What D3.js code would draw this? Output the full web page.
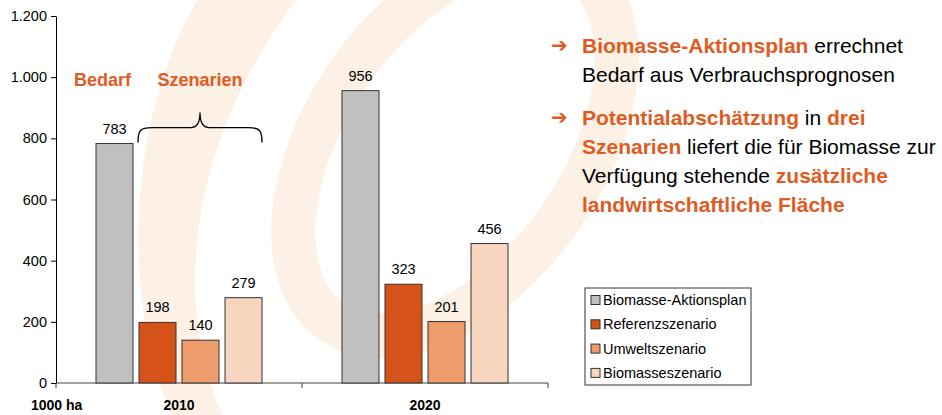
<!DOCTYPE html>
<html>
<head>
<meta charset="utf-8">
<script src="https://cdn.jsdelivr.net/npm/d3@7"></script>
<style>
  body { margin: 0; background: #fff; }
  svg { display: block; font-family: "Liberation Sans", Arial, sans-serif; }
</style>
</head>
<body>
<svg id="chart" width="942" height="415"></svg>
<script>
// data
const years = ["2010", "2020"]
const series = ["Biomasse-Aktionsplan", "Referenzszenario", "Umweltszenario", "Biomasseszenario"]
const values2010 = [783, 198, 140, 279]
const values2020 = [956, 323, 201, 456]
const yTicks = [0, 200, 400, 600, 800, 1000, 1200]
const colors = ["#c0c0c0", "#d55319", "#ee9c6c", "#f8d5bf"]
const notes = [
  [["Biomasse-Aktionsplan", true], [" errechnet", false]],
  [["Bedarf aus Verbrauchsprognosen", false]],
  [["Potentialabschätzung", true], [" in ", false], ["drei", true]],
  [["Szenarien", true], [" liefert die für Biomasse zur", false]],
  [["Verfügung stehende ", false], ["zusätzliche", true]],
  [["landwirtschaftliche Fläche", true]]
]
const arrowLines = [0, 2]

const orange = "#df5b24"
const svg = d3.select("#chart")

// background swirl (watermark)
const wm = svg.append("g")
wm.append("ellipse")
  .attr("cx", 455).attr("cy", 145).attr("rx", 215).attr("ry", 128)
  .attr("transform", "rotate(-55,455,145)")
  .attr("fill", "none").attr("stroke", "#fdf0e4")
  .attr("stroke-width", 44)
wm.append("path")
  .attr("d", "M200,-5 C120,130 125,320 175,420 L225,420 C175,320 180,150 300,-5 Z")
  .attr("fill", "#fdf0e4")

const margin = { left: 56, top: 16 }
const plotW = 492, plotH = 367

const de = d3.formatLocale({ decimal: ",", thousands: ".", grouping: [3], currency: ["", "€"] })
const fmt = de.format(",")

const x = d3.scaleBand().domain(years).range([0, plotW])
const xs = d3.scaleBand().domain(series).range([0, x.bandwidth()])
  .paddingInner(0.14).paddingOuter(0.93)
const y = d3.scaleLinear().domain([0, 1200]).range([plotH, 0])

const g = svg.append("g").attr("transform", `translate(${margin.left},${margin.top})`)

// y axis
const ya = g.append("g")
  .call(d3.axisLeft(y).tickValues(yTicks).tickFormat(fmt).tickSize(5).tickSizeOuter(0))
ya.select(".domain").attr("stroke", "#000")
ya.selectAll(".tick line").attr("stroke", "#000")
ya.selectAll(".tick text").attr("font-size", "14.5px").attr("fill", "#000")
  .attr("font-family", "Liberation Sans, Arial, sans-serif").attr("x", -9)

// x axis line + ticks at band edges
g.append("line").attr("x1", 0).attr("x2", plotW).attr("y1", plotH).attr("y2", plotH)
  .attr("stroke", "#444").attr("stroke-width", 1)
const edges = [0].concat(years.map(d => x(d) + x.bandwidth()))
g.selectAll(".xtick").data(edges).join("line")
  .attr("x1", d => d).attr("x2", d => d)
  .attr("y1", plotH).attr("y2", plotH + 5)
  .attr("stroke", "#444")
g.selectAll(".xlab").data(years).join("text")
  .attr("x", d => x(d) + x.bandwidth() / 2)
  .attr("y", plotH + 27)
  .attr("text-anchor", "middle")
  .attr("font-size", "14px").attr("font-weight", "bold")
  .text(d => d)
g.append("text").attr("x", -25).attr("y", plotH + 27)
  .attr("font-size", "14px").attr("font-weight", "bold")
  .text("1000 ha")

// bars
const rows = years.map((yr, i) => ({ year: yr, vals: i == 0 ? values2010 : values2020 }))
const grp = g.selectAll(".grp").data(rows).join("g")
  .attr("transform", d => `translate(${x(d.year)},0)`)
grp.selectAll("rect").data(d => d.vals.map((v, j) => ({ s: series[j], v: v, c: colors[j] })))
  .join("rect")
  .attr("x", d => xs(d.s))
  .attr("y", d => y(d.v))
  .attr("width", xs.bandwidth())
  .attr("height", d => plotH - y(d.v))
  .attr("fill", d => d.c)
  .attr("stroke", "#333").attr("stroke-width", 1)
grp.selectAll(".val").data(d => d.vals.map((v, j) => ({ s: series[j], v: v })))
  .join("text")
  .attr("x", d => xs(d.s) + xs.bandwidth() / 2)
  .attr("y", d => y(d.v) - 10)
  .attr("text-anchor", "middle")
  .attr("font-size", "14.5px")
  .text(d => fmt(d.v))

// Bedarf / Szenarien annotation with brace
const x0 = x("2010")
const bx0 = x0 + xs(series[1]) - 1
const bx1 = x0 + xs(series[3]) + xs.bandwidth()
const bm = (bx0 + bx1) / 2
const by = y(values2010[0]) - 1
g.append("path")
  .attr("d", `M${bx0},${by} C${bx0},${by - 12} ${bx0 + 2},${by - 15} ${bx0 + 14},${by - 15}
    L${bm - 9},${by - 15} C${bm - 3},${by - 15} ${bm},${by - 20} ${bm},${by - 30}
    C${bm},${by - 20} ${bm + 3},${by - 15} ${bm + 9},${by - 15}
    L${bx1 - 14},${by - 15} C${bx1 - 2},${by - 15} ${bx1},${by - 12} ${bx1},${by}`)
  .attr("fill", "none").attr("stroke", "#000").attr("stroke-width", 1.3)
g.append("text")
  .attr("x", x0 + xs(series[0]) + xs.bandwidth() / 2 - 12)
  .attr("y", 70).attr("text-anchor", "middle")
  .attr("font-size", "18px").attr("font-weight", "bold").attr("fill", orange)
  .text("Bedarf")
g.append("text")
  .attr("x", bm).attr("y", 70).attr("text-anchor", "middle")
  .attr("font-size", "18px").attr("font-weight", "bold").attr("fill", orange)
  .text("Szenarien")

// notes on the right
const noteG = svg.append("g").attr("transform", "translate(582,53)")
const lineH = 29
noteG.selectAll("text").data(notes).join("text")
  .attr("y", (d, i) => i * lineH + (i >= 2 ? 14 : 0))
  .attr("font-size", "21px")
  .selectAll("tspan").data(d => d).join("tspan")
  .attr("font-weight", d => d[1] ? "bold" : "normal")
  .attr("fill", d => d[1] ? orange : "#000")
  .text(d => d[0])
noteG.selectAll(".arrow").data(arrowLines).join("text")
  .attr("x", -31)
  .attr("y", d => d * lineH + (d >= 2 ? 14 : 0) - 1)
  .attr("font-family", "DejaVu Sans, sans-serif")
  .attr("font-size", "20px").attr("font-weight", "bold").attr("fill", orange)
  .text("➔")

// legend
const leg = svg.append("g").attr("transform", "translate(585,288)")
leg.append("rect").attr("width", 166).attr("height", 97)
  .attr("fill", "#fff").attr("stroke", "#333").attr("stroke-width", 1)
const li = leg.selectAll(".li").data(series).join("g")
  .attr("transform", (d, i) => `translate(6,${12 + i * 24.3})`)
li.append("rect").attr("x", 0).attr("y", -4.5).attr("width", 9).attr("height", 9)
  .attr("fill", (d, i) => colors[i]).attr("stroke", "#333")
li.append("text").attr("x", 12).attr("y", 5)
  .attr("font-size", "14.5px")
  .text(d => d)
</script>
</body>
</html>
